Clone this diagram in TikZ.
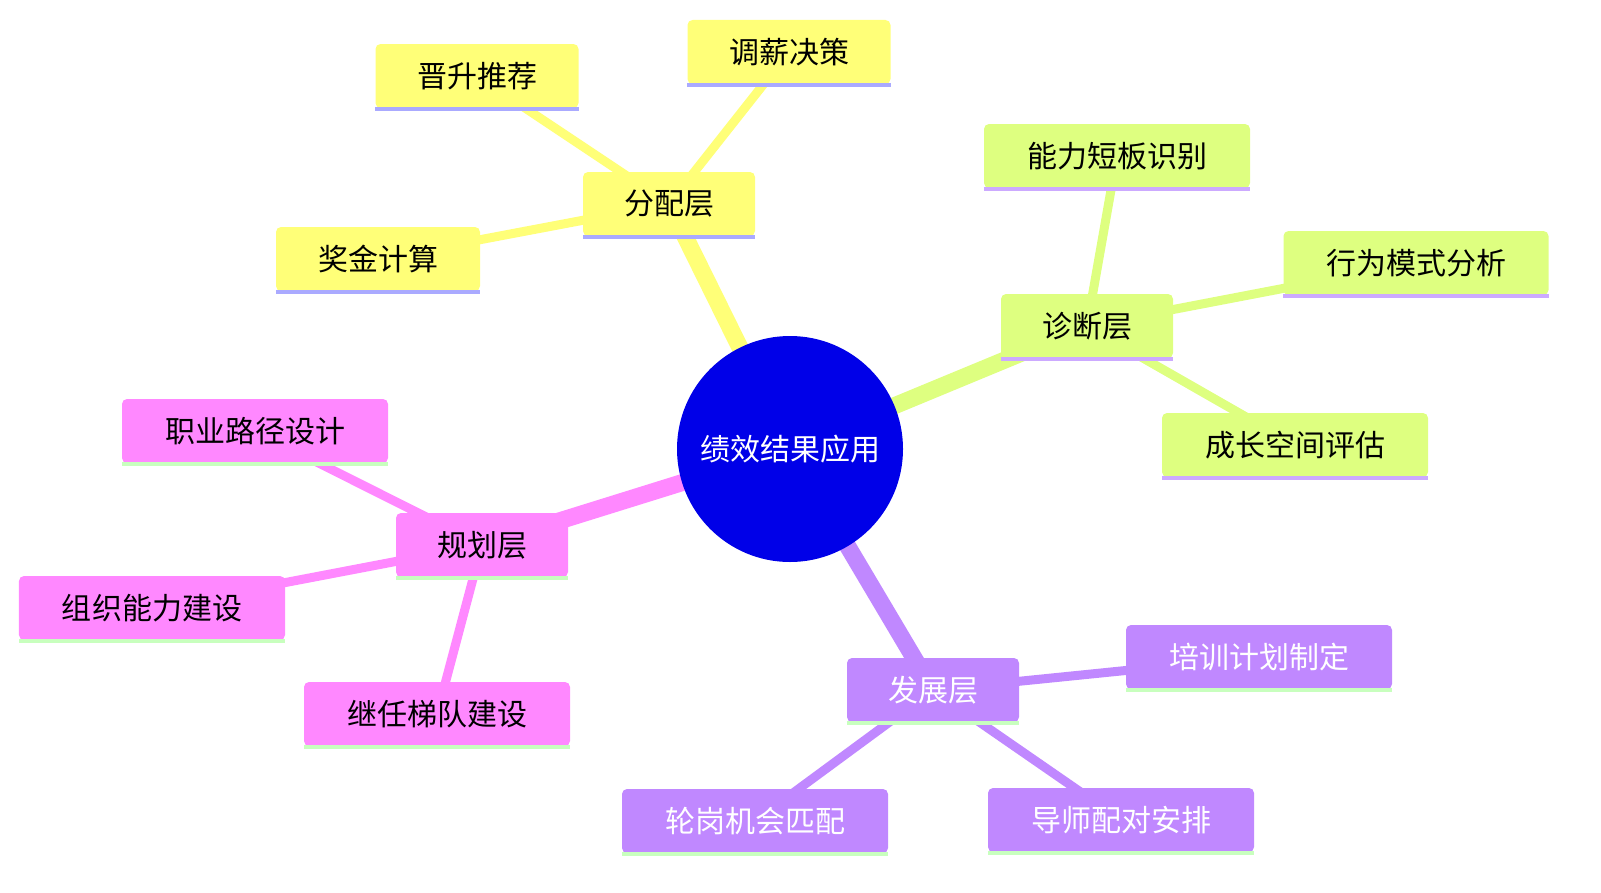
\documentclass[tikz,border=0pt]{standalone}
\usepackage{fontspec}
\setmainfont{Noto Sans CJK SC}
\usepackage{tikz}
\usetikzlibrary{positioning, arrows.meta, backgrounds}

\definecolor{rootblue}{RGB}{0,0,232}
\definecolor{fenpei}{RGB}{255,255,120}
\definecolor{zhenduan}{RGB}{222,255,128}
\definecolor{guihua}{RGB}{255,136,255}
\definecolor{fazhan}{RGB}{192,136,255}
\definecolor{edgelav}{RGB}{170,170,255}
\definecolor{edgepurp}{RGB}{204,170,255}
\definecolor{edgegreen}{RGB}{200,255,190}

\tikzset{
  leaf/.style={rounded corners=5bp, inner sep=0pt, font=\fontsize{30bp}{36bp}\selectfont},
  rootnode/.style={circle, fill=rootblue, minimum size=226bp, inner sep=0pt,
                   text=white, font=\fontsize{30bp}{36bp}\selectfont},
  trunk/.style={line width=17bp},
  twig/.style={line width=9bp}
}

\begin{document}
\begin{tikzpicture}[x=1bp, y=-1bp]
  \node[rootnode] (app) at (790,449) {绩效结果应用};

  % boxes: name/cx/cy/w/fill/line/text/label
  \foreach \n/\x/\y/\w/\f/\l/\t/\s in {
      fenpei/669/204/172/fenpei/edgelav/black/分配层,
      jinsheng/477/76/203/fenpei/edgelav/black/晋升推荐,
      tiaoxin/789/52/203/fenpei/edgelav/black/调薪决策,
      jiangjin/378/259/204/fenpei/edgelav/black/奖金计算,
      zhenduan/1087/326/172/zhenduan/edgepurp/black/诊断层,
      duanban/1117/156/266/zhenduan/edgepurp/black/能力短板识别,
      xingwei/1416/263/265/zhenduan/edgepurp/black/行为模式分析,
      chengzhang/1295/445/266/zhenduan/edgepurp/black/成长空间评估,
      guihua/482/545/172/guihua/edgegreen/black/规划层,
      lujing/255/431/266/guihua/edgegreen/black/职业路径设计,
      zuzhi/152/608/266/guihua/edgegreen/black/组织能力建设,
      jiren/437/714/266/guihua/edgegreen/black/继任梯队建设,
      fazhan/933/690/172/fazhan/edgegreen/white/发展层,
      peixun/1259/657/266/fazhan/edgegreen/white/培训计划制定,
      daoshi/1121/820/266/fazhan/edgegreen/white/导师配对安排,
      lungang/755/821/266/fazhan/edgegreen/white/轮岗机会匹配}{
    \node[leaf, fill=\f, minimum width=\w bp, minimum height=64bp, text=\t] (\n) at (\x,\y) {\s};
    \draw[\l, line width=4bp] ([yshift=-1bp]\n.south west) -- ([yshift=-1bp]\n.south east);
  }

  % connectors
  \begin{scope}[on background layer]
    \foreach \b/\c in {fenpei, zhenduan, guihua, fazhan}
      \draw[trunk, \c] (app.center) -- (\b.center);
    \foreach \a/\b in {fenpei/jinsheng, fenpei/tiaoxin, fenpei/jiangjin,
        zhenduan/duanban, zhenduan/xingwei, zhenduan/chengzhang,
        guihua/lujing, guihua/zuzhi, guihua/jiren,
        fazhan/peixun, fazhan/daoshi, fazhan/lungang}
      \draw[twig, \a] (\a.center) -- (\b.center);
  \end{scope}

  \pgfresetboundingbox
  \useasboundingbox (0,0) rectangle (1601,892);
\end{tikzpicture}
\end{document}
